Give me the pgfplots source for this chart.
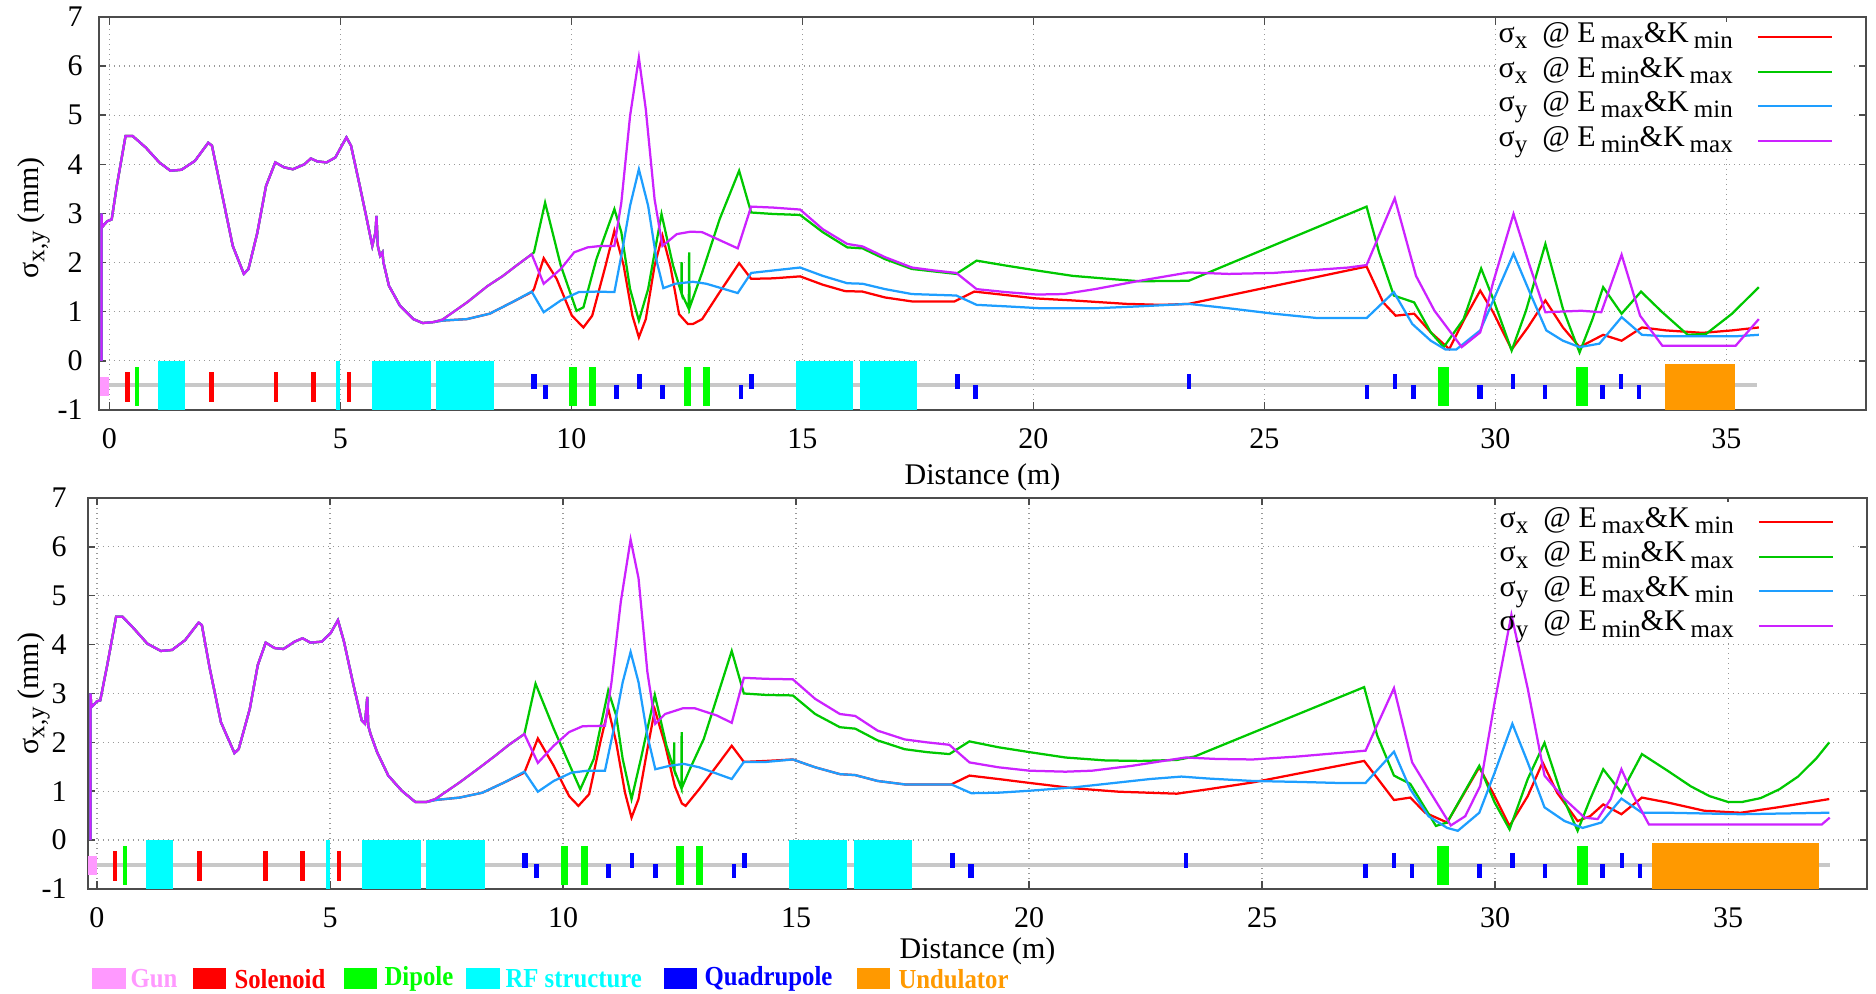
\documentclass[border=0pt]{standalone}
\usepackage{pgfplots}
\pgfplotsset{compat=1.18}
\usepackage{fontspec}
\setmainfont{Liberation Serif}
\newfontfamily\legfont[FakeStretch=0.9]{Liberation Serif}

\definecolor{cR}{HTML}{FF0000}
\definecolor{cG}{HTML}{00C800}
\definecolor{cB}{HTML}{1E9EFF}
\definecolor{cP}{HTML}{CC22FF}
\definecolor{eGun}{HTML}{FF99FF}
\definecolor{eSol}{HTML}{FF0000}
\definecolor{eDip}{HTML}{00FF00}
\definecolor{eRF}{HTML}{00FFFF}
\definecolor{eQuad}{HTML}{0000FF}
\definecolor{eUnd}{HTML}{FF9900}
\definecolor{eLine}{HTML}{C8C8C8}

\newcommand{\sub}[1]{\raisebox{-0.45ex}{\fontsize{10}{10}\selectfont #1}}
\newcommand{\rect}[5]{\addplot[fill=#1,draw=none,forget plot] coordinates {(#2,#4) (#3,#4) (#3,#5) (#2,#5)};}
\newcommand{\sol}[2]{\rect{eSol}{#1}{#2}{-0.22}{-0.84}}
\newcommand{\dip}[2]{\rect{eDip}{#1}{#2}{-0.13}{-0.92}}
\newcommand{\rf}[2]{\rect{eRF}{#1}{#2}{0}{-1}}
\newcommand{\qu}[2]{\rect{eQuad}{#1}{#2}{-0.27}{-0.57}}
\newcommand{\ql}[2]{\rect{eQuad}{#1}{#2}{-0.49}{-0.77}}
\newcommand{\lattice}{%
\rect{eGun}{-0.2}{0}{-0.33}{-0.72}
\sol{0.34}{0.44}\sol{2.15}{2.26}\sol{3.565}{3.66}\sol{4.36}{4.47}\sol{5.146}{5.24}
\dip{0.55}{0.645}\dip{9.95}{10.11}\dip{10.39}{10.53}\dip{12.43}{12.59}\dip{12.85}{13.0}\dip{28.76}{29.0}\dip{31.75}{32.0}
\rf{1.06}{1.64}\rf{4.91}{5.0}\rf{5.68}{6.95}\rf{7.07}{8.32}\rf{14.85}{16.09}\rf{16.24}{17.49}
\qu{9.13}{9.245}\qu{11.43}{11.53}\qu{13.84}{13.95}\qu{18.31}{18.40}\qu{23.33}{23.42}\qu{27.78}{27.87}\qu{30.33}{30.42}\qu{32.67}{32.77}
\ql{9.385}{9.485}\ql{10.92}{11.035}\ql{11.92}{12.035}\ql{13.62}{13.71}\ql{18.7}{18.81}\ql{27.17}{27.27}\ql{28.17}{28.27}\ql{29.61}{29.72}\ql{31.03}{31.12}\ql{32.26}{32.365}\ql{33.065}{33.155}
}

\pgfplotsset{mystyle/.style={
 scale only axis, ymin=-1, ymax=7,
 xtick={0,5,...,35}, ytick={-1,0,...,7},
 grid=major, grid style={gray!80, line width=0.5pt, dash pattern=on 0.5pt off 1.5pt},
 axis line style={black!70, line width=0.7pt},
 tick style={black!70, line width=0.6pt}, major tick length=3pt,
 tick label style={font=\fontsize{12}{14}\selectfont},
 /pgf/number format/assume math mode=true,
 xticklabel style={yshift=-4pt},
 yticklabel style={xshift=-3pt},
 xlabel={Distance (m)},
 ylabel={σ\sub{x,y} (mm)},
 label style={font=\fontsize{12}{14}\selectfont},
 legend plot pos=right, legend cell align=right,
 legend style={draw=none, fill=none, at={(1,1)}, anchor=north east, xshift=-12pt, inner sep=1pt, column sep=9.6pt, font=\fontsize{12}{14}\selectfont, nodes={inner sep=0pt, text height=9pt, text depth=4.8pt}},
 legend image code/.code={\draw[#1, line width=0.9pt] (0pt,0pt) -- (29.6pt,0pt);},
 every axis plot/.append style={line width=0.9pt},
}}

\begin{document}
\begin{tikzpicture}
\useasboundingbox (0,0) rectangle (750.4pt,397.6pt);
% ---------------- top panel
\begin{axis}[mystyle, at={(39.6pt,233.6pt)}, anchor=south west, width=706.8pt, height=157.2pt,
 xmin=-0.225, xmax=38.02,
 xlabel style={at={(axis description cs:0.5,0)}, anchor=center, yshift=-27pt},
 ylabel style={at={(axis description cs:-0.037,0.489)}, anchor=center}]
\addplot[fill=white, draw=none, forget plot] coordinates {(30.05,4.15) (37.7,4.15) (37.7,6.9) (30.05,6.9)};
\addplot[eLine, line width=1.6pt, forget plot] coordinates {(0,-0.5) (35.67,-0.5)};
\lattice
\rect{eUnd}{33.67}{35.18}{-0.07}{-1}
% red
\addplot[cR] coordinates {(-0.17,0) (-0.17,3.0) (-0.16,2.72) (-0.05,2.84) (0.05,2.88) (0.16,3.56) (0.35,4.58) (0.5,4.58) (0.79,4.34) (1.08,4.04) (1.32,3.87) (1.56,3.89) (1.85,4.07) (2.14,4.44) (2.22,4.38) (2.43,3.43) (2.67,2.34) (2.91,1.77) (3.01,1.87) (3.2,2.6) (3.39,3.56) (3.59,4.04) (3.78,3.94) (3.97,3.90) (4.22,4.0) (4.36,4.12) (4.5,4.06) (4.7,4.04) (4.89,4.14) (5.13,4.55) (5.23,4.38) (5.42,3.56) (5.57,2.89) (5.69,2.34) (5.76,2.62) (5.78,2.95) (5.81,2.34) (5.86,2.14) (5.91,2.21) (5.93,2.01) (6.05,1.53) (6.29,1.12) (6.58,0.85) (6.78,0.77) (7.02,0.79) (7.21,0.82)
 (7.74,0.85) (8.23,0.96) (8.71,1.19) (9.14,1.4) (9.19,1.46) (9.40,2.09) (9.68,1.67) (10.01,0.92) (10.26,0.68) (10.45,0.92) (10.74,1.94) (10.93,2.65) (11.13,1.94) (11.32,0.92) (11.46,0.48) (11.61,0.85) (11.8,1.94) (11.97,2.55) (12.14,1.94) (12.33,0.95) (12.52,0.75) (12.63,0.75) (12.83,0.85) (13.21,1.4) (13.63,1.99) (13.89,1.67) (14.37,1.68) (14.95,1.72) (15.44,1.55) (15.92,1.42) (16.3,1.41) (16.79,1.29) (17.37,1.21) (18.29,1.21) (18.72,1.41) (19.4,1.34) (20.07,1.27) (20.85,1.23) (22.01,1.16) (22.78,1.14) (23.36,1.16) (27.21,1.92) (27.57,1.19) (27.84,0.92) (28.24,0.96) (28.6,0.58) (29.0,0.24) (29.31,0.82) (29.67,1.43) (29.95,0.99) (30.35,0.23) (30.7,0.68) (31.08,1.23) (31.46,0.68) (31.82,0.28) (32.33,0.53) (32.73,0.41) (33.17,0.68) (33.69,0.62) (34.48,0.57) (35.12,0.62) (35.7,0.68)};
\addlegendentry{σ\sub{x}\ \ @ E\,\sub{max}\&K\,\sub{min}}
% green
\addplot[cG] coordinates {(-0.17,0) (-0.17,3.0) (-0.16,2.72) (-0.05,2.84) (0.05,2.88) (0.16,3.56) (0.35,4.58) (0.5,4.58) (0.79,4.34) (1.08,4.04) (1.32,3.87) (1.56,3.89) (1.85,4.07) (2.14,4.44) (2.22,4.38) (2.43,3.43) (2.67,2.34) (2.91,1.77) (3.01,1.87) (3.2,2.6) (3.39,3.56) (3.59,4.04) (3.78,3.94) (3.97,3.90) (4.22,4.0) (4.36,4.12) (4.5,4.06) (4.7,4.04) (4.89,4.14) (5.13,4.55) (5.23,4.38) (5.42,3.56) (5.57,2.89) (5.69,2.34) (5.76,2.62) (5.78,2.95) (5.81,2.34) (5.86,2.14) (5.91,2.21) (5.93,2.01) (6.05,1.53) (6.29,1.12) (6.58,0.85) (6.78,0.77) (7.02,0.79) (7.21,0.84)
 (7.74,1.19) (8.18,1.52) (8.52,1.73) (8.81,1.94) (9.14,2.17) (9.19,2.21) (9.43,3.22) (9.77,1.94) (10.11,1.02) (10.26,1.09) (10.54,2.07) (10.93,3.09) (11.08,2.62) (11.27,1.46) (11.46,0.82) (11.66,1.46) (11.95,2.99) (12.2,1.94) (12.38,1.38) (12.385,2.01) (12.39,1.36) (12.54,1.06) (12.548,2.21) (12.556,1.08) (12.83,1.8) (13.21,2.89) (13.63,3.87) (13.89,3.02) (14.37,2.99) (14.95,2.97) (15.44,2.62) (15.97,2.31) (16.3,2.29) (16.79,2.07) (17.37,1.87) (17.85,1.82) (18.33,1.77) (18.77,2.04) (19.4,1.94) (20.07,1.84) (20.85,1.73) (21.62,1.67) (22.3,1.62) (23.36,1.63) (27.21,3.14) (27.48,2.21) (27.8,1.33) (28.24,1.19) (28.6,0.58) (28.88,0.28) (29.31,0.85) (29.69,1.88) (29.95,1.26) (30.35,0.21) (30.66,1.02) (31.08,2.38) (31.46,1.06) (31.82,0.17) (32.1,0.85) (32.33,1.5) (32.73,0.96) (33.15,1.41) (33.61,0.99) (34.16,0.53) (34.56,0.55) (35.12,0.96) (35.7,1.5)};
\addlegendentry{σ\sub{x}\ \ @ E\,\sub{min}\&K\,\sub{max}}
% blue
\addplot[cB] coordinates {(-0.17,0) (-0.17,3.0) (-0.16,2.72) (-0.05,2.84) (0.05,2.88) (0.16,3.56) (0.35,4.58) (0.5,4.58) (0.79,4.34) (1.08,4.04) (1.32,3.87) (1.56,3.89) (1.85,4.07) (2.14,4.44) (2.22,4.38) (2.43,3.43) (2.67,2.34) (2.91,1.77) (3.01,1.87) (3.2,2.6) (3.39,3.56) (3.59,4.04) (3.78,3.94) (3.97,3.90) (4.22,4.0) (4.36,4.12) (4.5,4.06) (4.7,4.04) (4.89,4.14) (5.13,4.55) (5.23,4.38) (5.42,3.56) (5.57,2.89) (5.69,2.34) (5.76,2.62) (5.78,2.95) (5.81,2.34) (5.86,2.14) (5.91,2.21) (5.93,2.01) (6.05,1.53) (6.29,1.12) (6.58,0.85) (6.78,0.77) (7.02,0.79) (7.21,0.82)
 (7.74,0.85) (8.23,0.96) (8.71,1.19) (9.14,1.41) (9.40,0.99) (9.77,1.23) (10.16,1.4) (10.54,1.41) (10.93,1.4) (11.08,2.14) (11.27,3.16) (11.46,3.90) (11.66,3.16) (11.85,2.01) (11.99,1.48) (12.25,1.57) (12.63,1.61) (12.92,1.57) (13.6,1.38) (13.89,1.79) (14.37,1.84) (14.95,1.9) (15.44,1.73) (15.97,1.58) (16.3,1.57) (16.79,1.46) (17.37,1.36) (18.33,1.33) (18.77,1.14) (19.4,1.11) (20.17,1.07) (21.33,1.07) (22.3,1.11) (23.36,1.16) (24.23,1.07) (25.2,0.96) (26.16,0.87) (27.21,0.87) (27.8,1.4) (28.2,0.75) (28.6,0.41) (28.92,0.23) (29.15,0.23) (29.67,0.62) (30.03,1.4) (30.39,2.18) (30.74,1.4) (31.1,0.62) (31.46,0.41) (31.82,0.28) (32.25,0.35) (32.73,0.89) (33.17,0.53) (33.69,0.5) (35.2,0.5) (35.7,0.53)};
\addlegendentry{σ\sub{y}\ \ @ E\,\sub{max}\&K\,\sub{min}}
% purple
\addplot[cP] coordinates {(-0.17,0) (-0.17,3.0) (-0.16,2.72) (-0.05,2.84) (0.05,2.88) (0.16,3.56) (0.35,4.58) (0.5,4.58) (0.79,4.34) (1.08,4.04) (1.32,3.87) (1.56,3.89) (1.85,4.07) (2.14,4.44) (2.22,4.38) (2.43,3.43) (2.67,2.34) (2.91,1.77) (3.01,1.87) (3.2,2.6) (3.39,3.56) (3.59,4.04) (3.78,3.94) (3.97,3.90) (4.22,4.0) (4.36,4.12) (4.5,4.06) (4.7,4.04) (4.89,4.14) (5.13,4.55) (5.23,4.38) (5.42,3.56) (5.57,2.89) (5.69,2.34) (5.76,2.62) (5.78,2.95) (5.81,2.34) (5.86,2.14) (5.91,2.21) (5.93,2.01) (6.05,1.53) (6.29,1.12) (6.58,0.85) (6.78,0.77) (7.02,0.79) (7.21,0.84)
 (7.74,1.19) (8.18,1.52) (8.52,1.73) (8.81,1.94) (9.14,2.17) (9.40,1.57) (9.77,1.87) (10.06,2.21) (10.35,2.31) (10.64,2.34) (10.93,2.34) (11.08,3.22) (11.27,4.99) (11.46,6.17) (11.61,5.12) (11.8,3.29) (11.97,2.34) (12.28,2.58) (12.58,2.63) (12.83,2.62) (13.6,2.29) (13.89,3.14) (14.37,3.12) (14.95,3.08) (15.44,2.68) (15.97,2.38) (16.3,2.33) (16.79,2.11) (17.37,1.9) (17.85,1.84) (18.33,1.79) (18.77,1.46) (19.4,1.4) (20.07,1.35) (20.65,1.36) (21.33,1.46) (22.3,1.63) (23.36,1.8) (24.23,1.77) (25.2,1.79) (26.82,1.9) (27.21,1.95) (27.82,3.31) (28.28,1.73) (28.68,1.02) (29.27,0.28) (29.67,0.58) (29.95,1.6) (30.39,2.99) (30.74,1.94) (31.08,0.99) (31.86,1.02) (32.29,0.99) (32.73,2.16) (33.13,0.92) (33.61,0.31) (35.2,0.31) (35.7,0.85)};
\addlegendentry{σ\sub{y}\ \ @ E\,\sub{min}\&K\,\sub{max}}
\end{axis}
% ---------------- bottom panel
\begin{axis}[mystyle, at={(35.2pt,42pt)}, anchor=south west, width=711.6pt, height=156.4pt,
 xmin=-0.193, xmax=37.98,
 legend style={yshift=-1.6pt},
 yticklabel style={xshift=-2pt},
 xlabel style={at={(axis description cs:0.5,0)}, anchor=center, yshift=-25pt},
 ylabel style={at={(axis description cs:-0.0306,0.5)}, anchor=center}]
\addplot[fill=white, draw=none, forget plot] coordinates {(30.05,4.15) (37.64,4.15) (37.64,6.92) (30.05,6.92)};
\addplot[eLine, line width=1.6pt, forget plot] coordinates {(0,-0.5) (37.18,-0.5)};
\lattice
\rect{eUnd}{33.37}{36.96}{-0.05}{-1}
% red
\addplot[cR] coordinates {(-0.14,0) (-0.14,3.0) (-0.12,2.72) (0.0,2.84) (0.07,2.86) (0.22,3.58) (0.41,4.57) (0.55,4.57) (0.79,4.33) (1.08,4.02) (1.37,3.87) (1.61,3.89) (1.89,4.09) (2.18,4.45) (2.25,4.4) (2.42,3.51) (2.66,2.41) (2.95,1.78) (3.04,1.86) (3.28,2.69) (3.45,3.58) (3.62,4.04) (3.81,3.93) (4.0,3.91) (4.24,4.06) (4.41,4.13) (4.58,4.04) (4.82,4.06) (5.01,4.23) (5.17,4.5) (5.3,4.06) (5.49,3.23) (5.68,2.45) (5.75,2.38) (5.8,2.93) (5.82,2.34) (5.87,2.17) (6.01,1.8) (6.25,1.32) (6.54,1.01) (6.83,0.78) (7.07,0.78) (7.26,0.82)
 (7.78,0.87) (8.27,0.97) (8.74,1.18) (9.17,1.38) (9.46,2.08) (9.8,1.52) (10.13,0.9) (10.33,0.7) (10.56,0.94) (10.8,2.0) (10.97,2.69) (11.14,2.0) (11.33,0.97) (11.47,0.46) (11.62,0.84) (11.81,1.86) (11.97,2.67) (12.19,1.95) (12.4,1.1) (12.55,0.75) (12.63,0.7) (12.92,1.04) (13.3,1.52) (13.62,1.93) (13.88,1.6) (14.36,1.62) (14.93,1.65) (15.41,1.49) (15.94,1.35) (16.27,1.33) (16.75,1.21) (17.33,1.14) (18.33,1.14) (18.72,1.32) (19.34,1.25) (20.01,1.17) (20.97,1.06) (21.93,0.99) (23.17,0.95) (23.84,1.04) (24.8,1.18) (25.82,1.37) (27.19,1.62) (27.83,0.82) (28.18,0.87) (28.5,0.56) (28.97,0.36) (29.66,1.49) (29.99,0.9) (30.31,0.29) (30.7,0.9) (31.02,1.59) (31.33,0.97) (31.77,0.39) (32.04,0.49) (32.32,0.73) (32.71,0.53) (33.15,0.87) (33.7,0.77) (34.49,0.6) (35.27,0.56) (36.06,0.67) (37.17,0.84)};
\addlegendentry{σ\sub{x}\ \ @ E\,\sub{max}\&K\,\sub{min}}
% green
\addplot[cG] coordinates {(-0.14,0) (-0.14,3.0) (-0.12,2.72) (0.0,2.84) (0.07,2.86) (0.22,3.58) (0.41,4.57) (0.55,4.57) (0.79,4.33) (1.08,4.02) (1.37,3.87) (1.61,3.89) (1.89,4.09) (2.18,4.45) (2.25,4.4) (2.42,3.51) (2.66,2.41) (2.95,1.78) (3.04,1.86) (3.28,2.69) (3.45,3.58) (3.62,4.04) (3.81,3.93) (4.0,3.91) (4.24,4.06) (4.41,4.13) (4.58,4.04) (4.82,4.06) (5.01,4.23) (5.17,4.5) (5.3,4.06) (5.49,3.23) (5.68,2.45) (5.75,2.38) (5.8,2.93) (5.82,2.34) (5.87,2.17) (6.01,1.8) (6.25,1.32) (6.54,1.01) (6.83,0.78) (7.07,0.78) (7.26,0.84)
 (7.78,1.18) (8.22,1.49) (8.55,1.73) (8.84,1.95) (9.17,2.17) (9.41,3.2) (9.8,2.28) (10.37,1.04) (10.66,1.66) (10.97,3.06) (11.14,2.55) (11.28,1.66) (11.47,0.84) (11.67,1.66) (11.97,2.97) (12.22,1.93) (12.38,1.45) (12.385,2.0) (12.39,1.43) (12.54,1.06) (12.545,2.21) (12.55,1.07) (12.72,1.45) (13.02,2.07) (13.62,3.87) (13.88,3.0) (14.36,2.97) (14.93,2.96) (15.41,2.58) (15.94,2.31) (16.27,2.28) (16.75,2.04) (17.33,1.86) (17.81,1.8) (18.29,1.76) (18.72,2.02) (19.34,1.9) (20.01,1.8) (20.78,1.69) (21.64,1.63) (22.4,1.62) (23.17,1.64) (23.55,1.71) (27.19,3.13) (27.47,2.14) (27.83,1.32) (28.18,1.15) (28.73,0.29) (28.97,0.36) (29.66,1.52) (29.99,0.77) (30.31,0.22) (30.7,1.25) (31.06,1.99) (31.41,0.97) (31.77,0.19) (32.04,0.84) (32.32,1.45) (32.71,0.97) (33.15,1.76) (33.7,1.42) (34.2,1.1) (34.6,0.9) (35.0,0.78) (35.3,0.78) (35.7,0.86) (36.1,1.04) (36.5,1.3) (36.9,1.68) (37.17,2.0)};
\addlegendentry{σ\sub{x}\ \ @ E\,\sub{min}\&K\,\sub{max}}
% blue
\addplot[cB] coordinates {(-0.14,0) (-0.14,3.0) (-0.12,2.72) (0.0,2.84) (0.07,2.86) (0.22,3.58) (0.41,4.57) (0.55,4.57) (0.79,4.33) (1.08,4.02) (1.37,3.87) (1.61,3.89) (1.89,4.09) (2.18,4.45) (2.25,4.4) (2.42,3.51) (2.66,2.41) (2.95,1.78) (3.04,1.86) (3.28,2.69) (3.45,3.58) (3.62,4.04) (3.81,3.93) (4.0,3.91) (4.24,4.06) (4.41,4.13) (4.58,4.04) (4.82,4.06) (5.01,4.23) (5.17,4.5) (5.3,4.06) (5.49,3.23) (5.68,2.45) (5.75,2.38) (5.8,2.93) (5.82,2.34) (5.87,2.17) (6.01,1.8) (6.25,1.32) (6.54,1.01) (6.83,0.78) (7.07,0.78) (7.26,0.82)
 (7.78,0.87) (8.27,0.97) (8.74,1.18) (9.17,1.4) (9.46,0.99) (9.8,1.21) (10.18,1.38) (10.52,1.42) (10.9,1.42) (11.09,2.28) (11.28,3.23) (11.45,3.85) (11.62,3.23) (11.81,2.14) (11.98,1.45) (12.29,1.52) (12.59,1.56) (12.92,1.49) (13.62,1.25) (13.88,1.6) (14.36,1.6) (14.93,1.65) (15.41,1.49) (15.94,1.35) (16.27,1.33) (16.75,1.21) (17.33,1.14) (18.33,1.14) (18.76,0.96) (19.34,0.97) (20.01,1.01) (20.97,1.08) (21.93,1.18) (22.6,1.25) (23.27,1.3) (23.84,1.26) (24.8,1.21) (25.82,1.19) (26.6,1.17) (27.22,1.17) (27.83,1.81) (28.18,1.04) (28.57,0.49) (28.97,0.25) (29.2,0.19) (29.66,0.56) (29.99,1.38) (30.37,2.38) (30.7,1.59) (31.06,0.67) (31.49,0.39) (31.88,0.25) (32.28,0.36) (32.71,0.85) (33.15,0.56) (33.7,0.56) (35.27,0.53) (37.17,0.56)};
\addlegendentry{σ\sub{y}\ \ @ E\,\sub{max}\&K\,\sub{min}}
% purple
\addplot[cP] coordinates {(-0.14,0) (-0.14,3.0) (-0.12,2.72) (0.0,2.84) (0.07,2.86) (0.22,3.58) (0.41,4.57) (0.55,4.57) (0.79,4.33) (1.08,4.02) (1.37,3.87) (1.61,3.89) (1.89,4.09) (2.18,4.45) (2.25,4.4) (2.42,3.51) (2.66,2.41) (2.95,1.78) (3.04,1.86) (3.28,2.69) (3.45,3.58) (3.62,4.04) (3.81,3.93) (4.0,3.91) (4.24,4.06) (4.41,4.13) (4.58,4.04) (4.82,4.06) (5.01,4.23) (5.17,4.5) (5.3,4.06) (5.49,3.23) (5.68,2.45) (5.75,2.38) (5.8,2.93) (5.82,2.34) (5.87,2.17) (6.01,1.8) (6.25,1.32) (6.54,1.01) (6.83,0.78) (7.07,0.78) (7.26,0.84)
 (7.78,1.18) (8.22,1.49) (8.55,1.73) (8.84,1.95) (9.17,2.17) (9.46,1.58) (9.8,1.93) (10.13,2.21) (10.42,2.33) (10.9,2.34) (11.04,3.23) (11.24,4.88) (11.45,6.15) (11.62,5.36) (11.81,3.44) (11.98,2.38) (12.19,2.58) (12.58,2.7) (12.82,2.7) (13.3,2.55) (13.62,2.4) (13.88,3.32) (14.36,3.3) (14.93,3.29) (15.41,2.89) (15.94,2.58) (16.27,2.54) (16.75,2.24) (17.33,2.06) (17.81,2.0) (18.29,1.95) (18.72,1.59) (19.34,1.49) (20.01,1.42) (20.78,1.4) (21.35,1.42) (22.21,1.52) (22.88,1.62) (23.36,1.69) (24.03,1.66) (24.8,1.65) (25.76,1.71) (27.22,1.83) (27.83,3.11) (28.22,1.59) (28.57,1.04) (29.05,0.3) (29.36,0.49) (29.68,1.11) (29.99,2.82) (30.35,4.61) (30.7,3.1) (31.06,1.32) (31.49,0.84) (31.92,0.46) (32.2,0.43) (32.48,0.84) (32.71,1.45) (32.95,0.94) (33.3,0.32) (37.01,0.32) (37.18,0.46)};
\addlegendentry{σ\sub{y}\ \ @ E\,\sub{min}\&K\,\sub{max}}
\end{axis}
% ---------------- element legend
\begin{scope}[every node/.style={anchor=west, inner sep=0pt, font=\legfont\bfseries\fontsize{11}{12}\selectfont}]
\fill[eGun] (36.8pt,2pt) rectangle (50.4pt,10.4pt); \node[text=eGun] at (52pt,6pt) {Gun};
\fill[eSol] (77.2pt,2pt) rectangle (90.4pt,10.4pt); \node[text=eSol] at (93.6pt,6pt) {Solenoid};
\fill[eDip] (137.6pt,2pt) rectangle (150.8pt,10.4pt); \node[text=eDip] at (153.6pt,6pt) {Dipole};
\fill[eRF] (186.4pt,2pt) rectangle (200pt,10.4pt); \node[text=eRF] at (202pt,6pt) {RF structure};
\fill[eQuad] (265.6pt,2pt) rectangle (278.8pt,10.4pt); \node[text=eQuad] at (281.6pt,6pt) {Quadrupole};
\fill[eUnd] (342.8pt,2pt) rectangle (356pt,10.4pt); \node[text=eUnd] at (359.2pt,6pt) {Undulator};
\end{scope}
\end{tikzpicture}
\end{document}
